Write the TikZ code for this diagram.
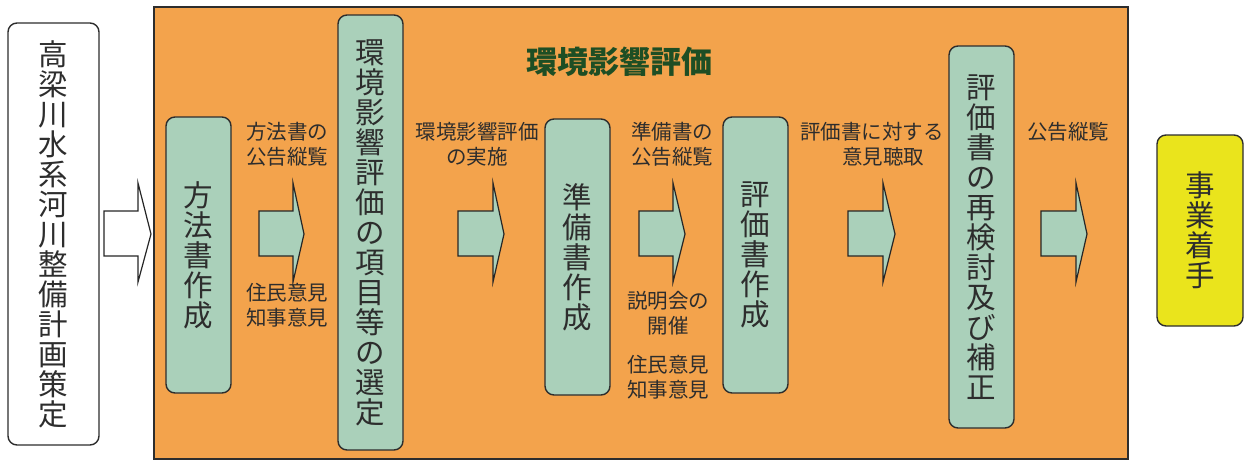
\documentclass[tikz,border=0pt]{standalone}
\usepackage{fontspec}
\setmainfont{Noto Sans CJK JP}
\definecolor{frameorange}{RGB}{243,163,76}
\definecolor{boxgreen}{RGB}{170,208,186}
\definecolor{titlegreen}{RGB}{30,78,36}
\definecolor{startyellow}{RGB}{234,228,28}
\definecolor{inkgray}{RGB}{45,45,45}
\tikzset{
  vbox/.style={draw=inkgray, line width=1.4pt, rounded corners=9pt, inner sep=0pt,
    font=\fontsize{29.5}{30}\selectfont, align=center, text=inkgray},
  gbox/.style={vbox, fill=boxgreen},
  lbl/.style={font=\fontsize{20.5}{25}\selectfont, align=center, text=inkgray, inner sep=0pt},
  garrow/.style={draw=black!85, line width=1.2pt, fill=boxgreen, line join=miter},
  warrow/.style={draw=black!85, line width=1.2pt, fill=white, line join=miter},
}
\newcommand\blockarrow[4]{%
  \draw[#4] (#1,211) -- (#2,211) -- (#2,183) -- (#3,234) -- (#2,282) -- (#2,256) -- (#1,256) -- cycle;}
\begin{document}
\begin{tikzpicture}[x=1pt,y=-1pt]
\useasboundingbox (0,0) rectangle (1244,461);
% frame
\draw[draw=inkgray, line width=1.4pt, fill=frameorange] (154,7) rectangle (1128,459);
\node[font=\fontsize{31}{31}\selectfont\bfseries, text=titlegreen] (title) at (619,62) {環境影響評価};
% left box
\node[vbox, fill=white, minimum width=91pt, minimum height=422pt] (plan) at (53.5,234)
  {高\\梁\\川\\水\\系\\河\\川\\整\\備\\計\\画\\策\\定};
\blockarrow{104}{138}{151}{warrow}
% boxes
\node[gbox, minimum width=65pt, minimum height=276pt] (b1) at (198.5,255) {方\\法\\書\\作\\成};
\node[gbox, minimum width=65pt, minimum height=435pt] (b2) at (370.5,232.5)
  {環\\境\\影\\響\\評\\価\\の\\項\\目\\等\\の\\選\\定};
\node[gbox, minimum width=65pt, minimum height=276pt] (b3) at (577.5,257) {準\\備\\書\\作\\成};
\node[gbox, minimum width=65pt, minimum height=276pt] (b4) at (755.5,255) {評\\価\\書\\作\\成};
\node[gbox, minimum width=65pt, minimum height=382pt] (b5) at (981.5,237)
  {評\\価\\書\\の\\再\\検\\討\\及\\び\\補\\正};
\node[vbox, fill=startyellow, minimum width=86pt, minimum height=191pt] (b6) at (1200,230.5)
  {事\\業\\着\\手};
% arrows
\blockarrow{259}{293}{304}{garrow}
\blockarrow{458}{493}{504}{garrow}
\blockarrow{639}{673}{685}{garrow}
\blockarrow{848}{883}{895}{garrow}
\blockarrow{1041}{1076}{1087}{garrow}
% labels
\node[lbl] (l1) at (287,144.5) {方法書の\\公告縦覧};
\node[lbl] (l2) at (287,305.5) {住民意見\\知事意見};
\node[lbl] (l3) at (477,144.5) {環境影響評価\\の実施};
\node[lbl] (l4) at (672,144.5) {準備書の\\公告縦覧};
\node[lbl] (l5) at (668,313.5) {説明会の\\開催};
\node[lbl] (l6) at (668,377.5) {住民意見\\知事意見};
\node[lbl] (l7a) at (872,132) {評価書に対する};
\node[lbl] (l7b) at (883,157) {意見聴取};
\node[lbl] (l8) at (1068,132) {公告縦覧};
\end{tikzpicture}
\end{document}
